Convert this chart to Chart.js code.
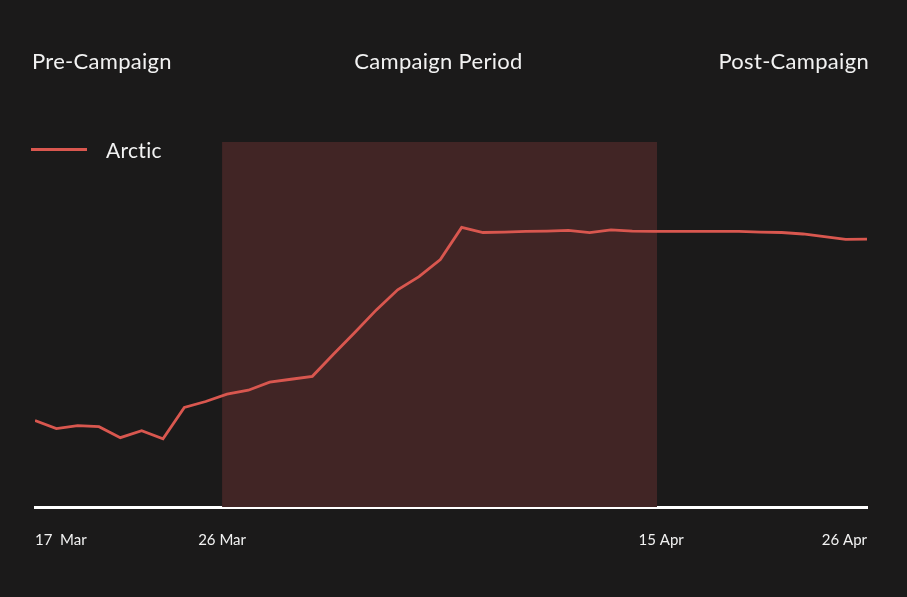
<!DOCTYPE html>
<html>
<head>
<meta charset="utf-8">
<script src="https://cdn.jsdelivr.net/npm/chart.js@4"></script>
<style>
  html, body { margin: 0; padding: 0; background: #1b1a1a; }
  #wrap { position: relative; width: 907px; height: 597px; font-family: Lato, "Open Sans", sans-serif; color: #f2f2f2; }
  .head { position: absolute; top: 47px; font-size: 22px; letter-spacing: 0.3px; }
  #legend { position: absolute; top: 137px; left: 31px; font-size: 21px; letter-spacing: 0.3px; display: flex; align-items: center; }
  #legend span.swatch { display: inline-block; width: 56px; height: 3px; background: #d9574f; margin-right: 19px; }
</style>
</head>
<body>
<div id="wrap">
  <canvas id="myChart" width="907" height="597"></canvas>
  <div class="head" style="left:32px">Pre-Campaign</div>
  <div class="head" style="left:0;width:877px;text-align:center">Campaign Period</div>
  <div class="head" style="right:38px">Post-Campaign</div>
  <div id="legend"><span class="swatch"></span><span>Arctic</span></div>
</div>
<script>
// day index from 17 Mar
const days = [0,1,2,3,4,5,6,7,8,9,10,11,12,13,14,15,16,17,18,19,
              20,21,22,23,24,25,26,27,28,29,30,31,32,33,34,35,36,37,38,39]
const arctic = [23.7,21.5,22.3,22.0,19.0,20.9,18.7,27.3,28.9,30.9,
                32.0,34.2,35.0,35.8,41.9,47.9,54.0,59.5,63.1,67.8,
                76.6,75.2,75.3,75.5,75.6,75.8,75.2,75.9,75.6,75.5,
                75.5,75.5,75.5,75.5,75.3,75.2,74.8,74.1,73.3,73.4]
const tickPos = [0, 8.77, 29.35, 39]
const tickLabels = ['17  Mar', '26 Mar', '15 Apr', '26 Apr']
const campaign = [8.77, 29.16]   // shaded campaign period
const bandTop = 100

const ctx = document.getElementById('myChart')
new Chart(ctx, {
  type: 'line',
  data: {
    datasets: [
      {
        label: 'Arctic',
        data: days.map((d, i) => ({ x: d, y: arctic[i] })),
        borderColor: '#d9574f',
        borderWidth: 2.8,
        pointRadius: 0,
        tension: 0,
        order: 1
      },
      {
        label: 'Campaign',
        data: campaign.map(d => ({ x: d, y: bandTop })),
        borderWidth: 0,
        pointRadius: 0,
        backgroundColor: '#412525',
        fill: 'origin',
        order: 2
      }
    ]
  },
  options: {
    responsive: false,
    animation: false,
    layout: { padding: { left: 35, right: 40, top: 142, bottom: 32 } },
    plugins: { legend: { display: false }, tooltip: { enabled: false } },
    scales: {
      x: {
        type: 'linear',
        min: 0,
        max: 39,
        grid: { display: false },
        border: { color: '#ffffff', width: 3 },
        afterBuildTicks: (axis) => { axis.ticks = tickPos.map(v => ({ value: v })) },
        ticks: {
          autoSkip: false,
          maxRotation: 0,
          align: 'inner',
          padding: 16,
          color: '#f2f2f2',
          font: { family: 'Lato', size: 15 },
          callback: function(value, index) { return tickLabels[index] }
        }
      },
      y: {
        display: false,
        min: 0,
        max: 100
      }
    }
  }
})
</script>
</body>
</html>
